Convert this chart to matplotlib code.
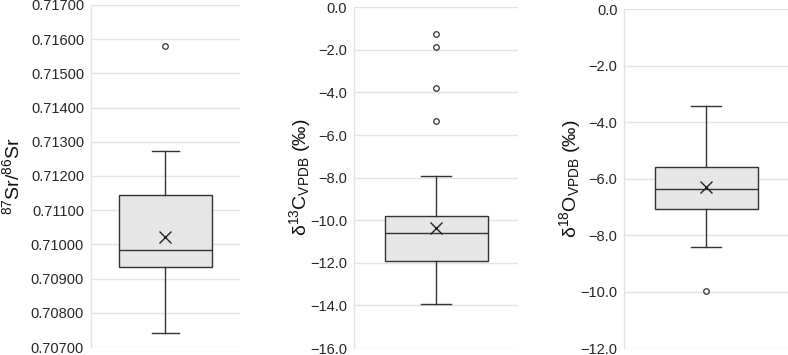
import matplotlib.pyplot as plt
import matplotlib.ticker as mticker
import numpy as np

plt.rcParams['font.family'] = ['Liberation Sans', 'DejaVu Sans']
plt.rcParams['mathtext.fontset'] = 'custom'
plt.rcParams['mathtext.rm'] = 'Liberation Sans'
plt.rcParams['mathtext.it'] = 'Liberation Sans:italic'
plt.rcParams['mathtext.bf'] = 'Liberation Sans:bold'

# box stats
labels = [r'$^{87}$Sr/$^{86}$Sr', r'δ$^{13}$C$_{\mathrm{VPDB}}$ (‰)', r'δ$^{18}$O$_{\mathrm{VPDB}}$ (‰)']
q1 = [0.70934, -11.93, -7.09]
med = [0.70983, -10.61, -6.38]
q3 = [0.71145, -9.81, -5.59]
whislo = [0.70742, -13.93, -8.44]
whishi = [0.71272, -7.94, -3.42]
means = [0.71023, -10.37, -6.29]
fliers = [[0.71581], [-1.26, -1.87, -3.80, -5.35], [-9.98]]

ylims = [(0.707, 0.717), (-16, 0), (-12, 0)]
ysteps = [0.001, 2.0, 2.0]
yfmt = ['{:.5f}', '{:.1f}', '{:.1f}']

# axes rectangles in figure fraction
rects = [[0.1155, 0.0225, 0.189, 0.9635],
         [0.4496, 0.0197, 0.2077, 0.9597],
         [0.7923, 0.0197, 0.2077, 0.9549]]
label_x = [-0.457, -0.25, -0.255]

fig = plt.figure(figsize=(7.88, 3.55), dpi=100)
grid_col = '#e3e3e3'
edge = '#333333'

for i in range(3):
    ax = fig.add_axes(rects[i])
    st = dict(med=med[i], q1=q1[i], q3=q3[i], whislo=whislo[i], whishi=whishi[i],
              mean=means[i], fliers=fliers[i])
    ax.bxp([st], positions=[0.5], widths=0.63, capwidths=0.18, showmeans=True,
           patch_artist=True,
           boxprops=dict(facecolor='#e6e6e6', edgecolor=edge, linewidth=1.0),
           medianprops=dict(color=edge, linewidth=1.0),
           whiskerprops=dict(color=edge, linewidth=1.0),
           capprops=dict(color=edge, linewidth=1.0),
           meanprops=dict(marker='x', markeredgecolor='#222222', markersize=9, markeredgewidth=1.0),
           flierprops=dict(marker='o', markerfacecolor='none', markeredgecolor='#333333',
                           markersize=4, markeredgewidth=0.9))
    ax.set_xlim(0, 1)
    ax.set_ylim(*ylims[i])
    lo, hi = ylims[i]
    ax.set_yticks(np.arange(lo, hi + ysteps[i] / 2, ysteps[i]))
    f = yfmt[i]
    ax.yaxis.set_major_formatter(mticker.FuncFormatter(lambda v, p, f=f: f.format(v).replace('-', '\u2212')))
    ax.set_xticks([])
    ax.grid(axis='y', color=grid_col, linewidth=1.0)
    ax.set_axisbelow(True)
    for s in ['top', 'right', 'bottom']:
        ax.spines[s].set_visible(False)
    ax.spines['left'].set_color(grid_col)
    ax.spines['left'].set_linewidth(1.0)
    ax.tick_params(axis='y', length=0, pad=5, labelsize=10.5, labelcolor='#262626')
    ax.set_ylabel(labels[i], fontsize=14, color='#111111')
    ax.yaxis.set_label_coords(label_x[i], 0.5)

plt.savefig('out.png', dpi=100)
